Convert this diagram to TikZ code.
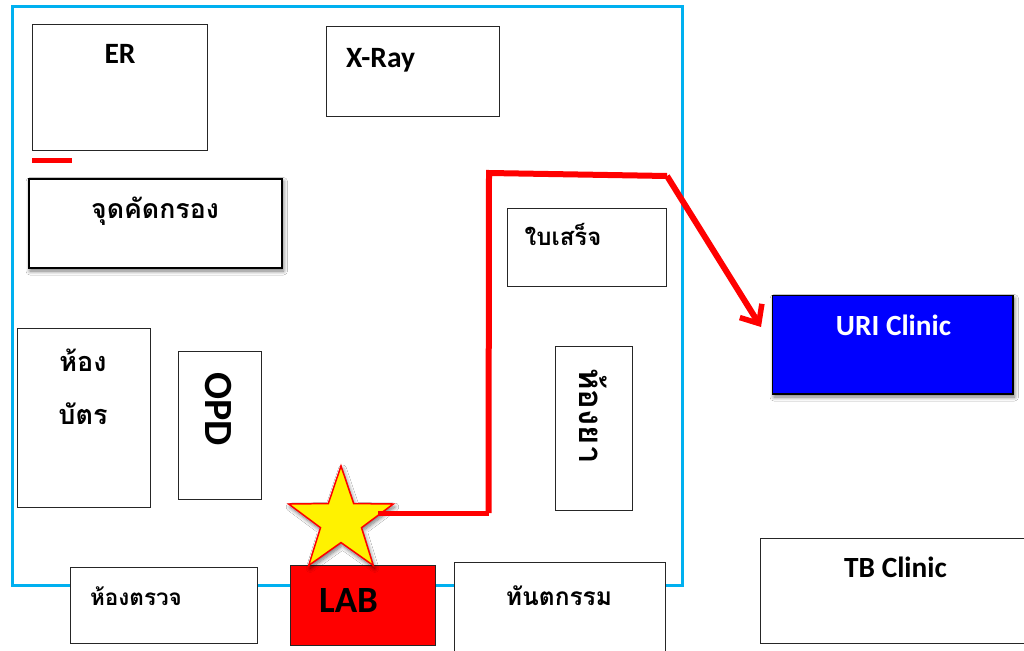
\documentclass[tikz,border=0pt]{standalone}
\usepackage{fontspec}
\setmainfont{Carlito}
\newfontfamily\thaifont[Script=Thai]{Loma}
\usetikzlibrary{arrows.meta,shapes.geometric,shadows.blur}
\definecolor{wallblue}{HTML}{00B0F0}
\tikzset{
  x=1pt,y=-1pt,
  room/.style={draw=black!85,line width=1pt,fill=white,minimum width=#1,inner sep=0pt,outer sep=0pt,anchor=north west},
  softshadow/.style={blur shadow={shadow xshift=1.5pt,shadow yshift=-3pt,shadow blur radius=4pt,shadow blur steps=8,shadow opacity=55}},
  heavy/.style={draw=black,line width=2pt},
  latin/.style={font=\bfseries\fontsize{#1}{#1}\selectfont,inner sep=0pt},
  thai/.style={font=\thaifont\bfseries\fontsize{#1}{#1}\selectfont,inner sep=0pt},
  route/.style={draw=red,line width=6pt,line join=miter},
  routehead/.style={-{Straight Barb[length=15pt,width=26pt,line width=5.5pt]}},
}
\begin{document}
\begin{tikzpicture}
\useasboundingbox (0,0) rectangle (1024,650);
\clip (0,0) rectangle (1024,650);
\fill[white] (0,0) rectangle (1024,650);
\draw[wallblue,line width=3pt] (12,7) rectangle (682,585);

\node[room=175pt,minimum height=126pt] (er) at (32.2,24.8) {};
\node[room=173.2pt,minimum height=90pt] (xray) at (326,26.8) {};
\node[room=253.5pt,minimum height=89.5pt,heavy,softshadow] (triage) at (28.5,178.5) {};
\node[room=159pt,minimum height=78pt] (receipt) at (507.2,208) {};
\node[room=77pt,minimum height=164pt] (pharmacy) at (555,346) {};
\node[room=133.5pt,minimum height=179pt] (card) at (17,328) {};
\node[room=83pt,minimum height=148pt] (opd) at (178.2,351) {};
\node[room=187pt,minimum height=76pt] (exam) at (70,567) {};
\node[room=145pt,minimum height=80.5pt,fill=red] (lab) at (290.2,565) {};
\node[room=211pt,minimum height=95pt] (dental) at (454,562) {};
\node[room=240.5pt,minimum height=98.5pt,heavy,line width=1.5pt,fill=blue,softshadow] (uri) at (772.5,295.5) {};
\node[room=270pt,minimum height=105pt] (tb) at (760,538) {};

\node[draw=red,line width=1.5pt,fill=yellow,star,star points=5,star point ratio=2.55,minimum size=110pt,inner sep=0pt,outer sep=0pt,softshadow] (mark) at (341,521) {};

\coordinate (dashA) at (32,160.5);
\coordinate (dashB) at (72,160.5);
\draw[route,line width=5pt] (dashA) -- (dashB);

\coordinate (routeStart) at (378,513);
\coordinate (routeA) at (488.5,513);
\coordinate (routeB) at (489,173);
\coordinate (routeC) at (667,176);
\coordinate (routeEnd) at (761,327);
\draw[route,line width=5pt] (routeStart) -- (routeA);
\draw[route] (routeA) -- (routeB) -- (routeC);
\draw[route,routehead] (routeC) -- (routeEnd);

\node[latin=29.5] (erT) at (120,54) {ER};
\node[latin=29.5] (xrayT) at (380.5,60) {X-Ray};
\node[thai=26.7] (triageT) at (155,211) {จุดคัดกรอง};
\node[thai=24] (receiptT) at (563,234) {ใบเสร็จ};
\node[thai=33,rotate=-90] (pharmacyT) at (593,416) {ห้องยา};
\node[thai=27] (cardT1) at (83,360) {ห้อง};
\node[thai=27] (cardT2) at (83,414) {บัตร};
\node[latin=40,rotate=-90] (opdT) at (218.5,409) {OPD};
\node[thai=22.5] (examT) at (136,596) {ห้องตรวจ};
\node[latin=37] (labT) at (348.5,600) {LAB};
\node[thai=24.5] (dentalT) at (559,596) {ทันตกรรม};
\node[latin=29.3,text=white] (uriT) at (893.5,325) {URI Clinic};
\node[latin=29.3] (tbT) at (895.5,567) {TB Clinic};
\end{tikzpicture}
\end{document}
